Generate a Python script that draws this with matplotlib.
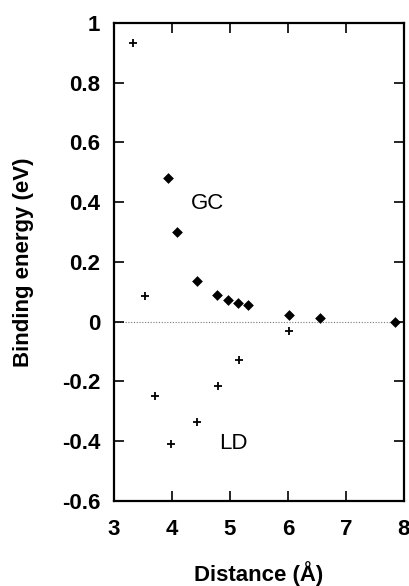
import matplotlib
matplotlib.use("Agg")
import matplotlib.pyplot as plt

gc_x = [3.93, 4.09, 4.44, 4.78, 4.96, 5.14, 5.32, 6.02, 6.56, 7.84]
gc_y = [0.48, 0.30, 0.137, 0.088, 0.074, 0.062, 0.055, 0.023, 0.011, 0.0]
ld_x = [3.33, 3.53, 3.71, 3.98, 4.43, 4.79, 5.15, 6.02]
ld_y = [0.932, 0.086, -0.247, -0.41, -0.334, -0.215, -0.127, -0.03]
xticks = [3, 4, 5, 6, 7, 8]
yticks = [-0.6, -0.4, -0.2, 0, 0.2, 0.4, 0.6, 0.8, 1]
ytick_labels = ["-0.6", "-0.4", "-0.2", "0", "0.2", "0.4", "0.6", "0.8", "1"]

plt.rcParams['font.family'] = ['Liberation Sans', 'DejaVu Sans']

fig = plt.figure(figsize=(4.10, 5.86), dpi=100)
ax = fig.add_axes([0.278, 0.145, 0.707, 0.816])

ax.axhline(0, color='#777777', lw=0.8, ls=(0, (1, 1.5)), zorder=1)
ax.scatter(gc_x, gc_y, marker='D', s=30, color='black', zorder=3, linewidths=0)
ax.scatter(ld_x, ld_y, marker='+', s=30, color='black', zorder=3, linewidths=1.3)

ax.text(4.62, 0.395, "GC", fontsize=16, ha='center', va='center')
ax.text(5.06, -0.408, "LD", fontsize=16, ha='center', va='center')

ax.set_xlim(3, 8)
ax.set_ylim(-0.6, 1)
ax.set_xticks(xticks)
ax.set_xticklabels([str(t) for t in xticks], fontsize=16, fontweight='bold')
ax.set_yticks(yticks)
ax.set_yticklabels(ytick_labels, fontsize=16, fontweight='bold')
ax.tick_params(direction='in', length=7, width=1.2, top=True, right=True)
ax.tick_params(axis='x', pad=13)
ax.tick_params(axis='y', pad=10)
for s in ax.spines.values():
    s.set_linewidth(1.6)

ax.set_xlabel("Distance (Å)", fontsize=16, fontweight='bold', labelpad=15)
ax.set_ylabel("Binding energy (eV)", fontsize=16, fontweight='bold', labelpad=20)

fig.savefig("out.png", dpi=100)
